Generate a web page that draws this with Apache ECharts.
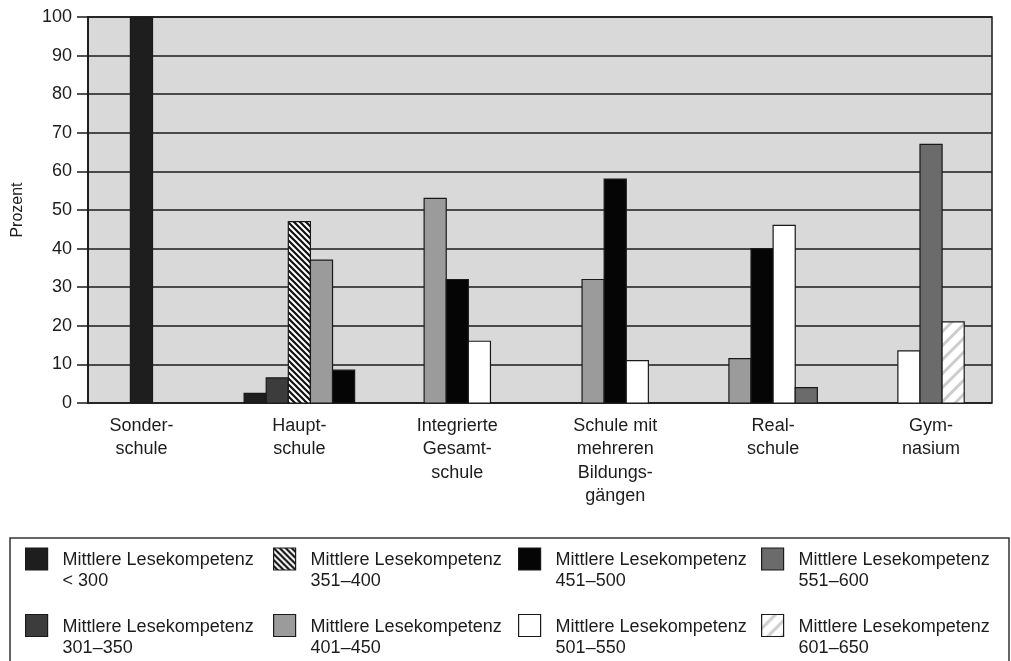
<!DOCTYPE html>
<html>
<head>
<meta charset="utf-8">
<script src="https://cdn.jsdelivr.net/npm/echarts@6/dist/echarts.min.js"></script>
<style>
  html, body { margin: 0; padding: 0; background: #ffffff; }
  #chart { width: 1011px; height: 661px; }
</style>
</head>
<body>
<div id="chart"></div>
<script>
// School types along the category axis
const schoolTypes = [
  'Sonder-\nschule',
  'Haupt-\nschule',
  'Integrierte\nGesamt-\nschule',
  'Schule mit\nmehreren\nBildungs-\ngängen',
  'Real-\nschule',
  'Gym-\nnasium'
];

// Bands of mean reading competence (one bar series each)
const bandNames = ['< 300', '301–350', '351–400', '401–450', '451–500', '501–550', '551–600', '601–650'];

// Percentage of schools per band, in the order of schoolTypes
const shareBelow300 = [100, 2.5, 0, 0, 0, 0];
const share301to350 = [0, 6.5, 0, 0, 0, 0];
const share351to400 = [0, 47, 0, 0, 0, 0];
const share401to450 = [0, 37, 53, 32, 11.5, 0];
const share451to500 = [0, 8.5, 32, 58, 40, 0];
const share501to550 = [0, 0, 16, 11, 46, 13.5];
const share551to600 = [0, 0, 0, 0, 4, 67];
const share601to650 = [0, 0, 0, 0, 0, 21];

const seriesValues = [
  shareBelow300, share301to350, share351to400, share401to450,
  share451to500, share501to550, share551to600, share601to650
];

// Diagonal stripe fill built on a small canvas tile
function stripes(size, width, color, bg, dir) {
  const c = document.createElement('canvas');
  c.width = c.height = size;
  const g = c.getContext('2d');
  g.fillStyle = bg;
  g.fillRect(0, 0, size, size);
  g.strokeStyle = color;
  g.lineWidth = width;
  g.beginPath();
  for (let k = -1; k <= 1; k++) {
    if (dir === 'down') {
      g.moveTo(-1, -1 + k * size);
      g.lineTo(size + 1, size + 1 + k * size);
    } else {
      g.moveTo(-1, size + 1 + k * size);
      g.lineTo(size + 1, -1 + k * size);
    }
  }
  g.stroke();
  return { image: c, repeat: 'repeat' };
}

const fills = [
  '#1e1e1e',
  '#3c3c3c',
  stripes(6, 2.2, '#111111', '#ffffff', 'down'),
  '#9b9b9b',
  '#050505',
  '#ffffff',
  '#6b6b6b',
  stripes(14, 3, '#cdcdcd', '#ffffff', 'up')
];

const FONT = '"Liberation Sans", Arial, sans-serif';
const INK = '#1c1c1c';

// Only the bands present in a school type are drawn, packed side by side
function renderBar(band, params, api) {
  const cat = api.value(0);
  const val = api.value(1);
  if (!val) return null;
  const present = [];
  seriesValues.forEach((arr, i) => { if (arr[cat]) present.push(i); });
  const pos = present.indexOf(band);
  const barW = api.size([1, 0])[0] * 0.14;
  const base = api.coord([cat, 0]);
  const top = api.coord([cat, val]);
  const x = base[0] + (pos - (present.length - 1) / 2) * barW - barW / 2;
  return {
    type: 'rect',
    shape: { x: x, y: top[1], width: barW, height: base[1] - top[1] },
    style: { fill: fills[band], stroke: '#1a1a1a', lineWidth: 1.2 }
  };
}

const chart = echarts.init(document.getElementById('chart'), null, { renderer: 'canvas' });

const legendLeft = [25, 273, 518, 761];

chart.setOption({
  animation: false,
  backgroundColor: '#ffffff',
  textStyle: { fontFamily: FONT },
  grid: [
    {
      left: 88, right: 19, top: 17, bottom: 258,
      show: true, backgroundColor: '#d9d9d9', borderColor: '#1a1a1a', borderWidth: 1.5
    },
    { left: 62.5, right: 1, top: 17, bottom: 258 }
  ],
  xAxis: [
    { gridIndex: 0, type: 'value', min: 0, max: 1, show: false },
    {
      gridIndex: 1, type: 'category', data: schoolTypes, boundaryGap: true,
      axisLine: { show: false }, axisTick: { show: false },
      axisLabel: { color: INK, fontSize: 18, lineHeight: 23.5, margin: 11, fontFamily: FONT, interval: 0 }
    }
  ],
  yAxis: [
    {
      gridIndex: 0, type: 'value', min: 0, max: 100, interval: 10,
      name: 'Prozent', nameLocation: 'middle', nameGap: 62,
      nameTextStyle: { color: INK, fontSize: 16, fontFamily: FONT },
      axisLine: { show: true, lineStyle: { color: '#1a1a1a', width: 1.8 } },
      axisTick: { show: true, length: 11, lineStyle: { color: '#1a1a1a', width: 1.5 } },
      axisLabel: { color: INK, fontSize: 18, margin: 16, fontFamily: FONT },
      splitLine: { show: true, lineStyle: { color: '#1a1a1a', width: 1.5 } }
    },
    { gridIndex: 1, type: 'value', min: 0, max: 100, show: false }
  ],
  legend: legendLeft.map((left, col) => ({
    orient: 'vertical',
    left: left,
    top: 526,
    width: 240,
    height: 200,
    padding: 0,
    itemWidth: 22,
    itemHeight: 22,
    itemGap: 2,
    icon: 'rect',
    selectedMode: false,
    data: [col * 2, col * 2 + 1].map(s => ({
      name: bandNames[s],
      itemStyle: { color: fills[s], borderColor: '#1a1a1a', borderWidth: 1.2 }
    })),
    // a spacer line on top keeps the first text line level with the swatch
    formatter: n => '{s| }\n{t|Mittlere Lesekompetenz}\n{t|' + n + '}',
    textStyle: {
      color: INK, fontSize: 18, fontFamily: FONT, padding: [0, 0, 0, 10],
      rich: {
        s: { height: 24, lineHeight: 24, fontSize: 10 },
        t: { color: INK, fontSize: 18, lineHeight: 21, fontFamily: FONT }
      }
    }
  })),
  graphic: [
    {
      type: 'rect', silent: true,
      shape: { x: 10, y: 538, width: 999, height: 140 },
      style: { fill: 'none', stroke: '#333333', lineWidth: 1.5 }
    }
  ],
  series: seriesValues.map((vals, s) => ({
    type: 'custom',
    name: bandNames[s],
    xAxisIndex: 1,
    yAxisIndex: 1,
    encode: { x: 0, y: 1 },
    itemStyle: { color: fills[s], borderColor: '#1a1a1a', borderWidth: 1.2 },
    data: vals.map((v, i) => [i, v]),
    renderItem: (params, api) => renderBar(s, params, api)
  }))
});
</script>
</body>
</html>
